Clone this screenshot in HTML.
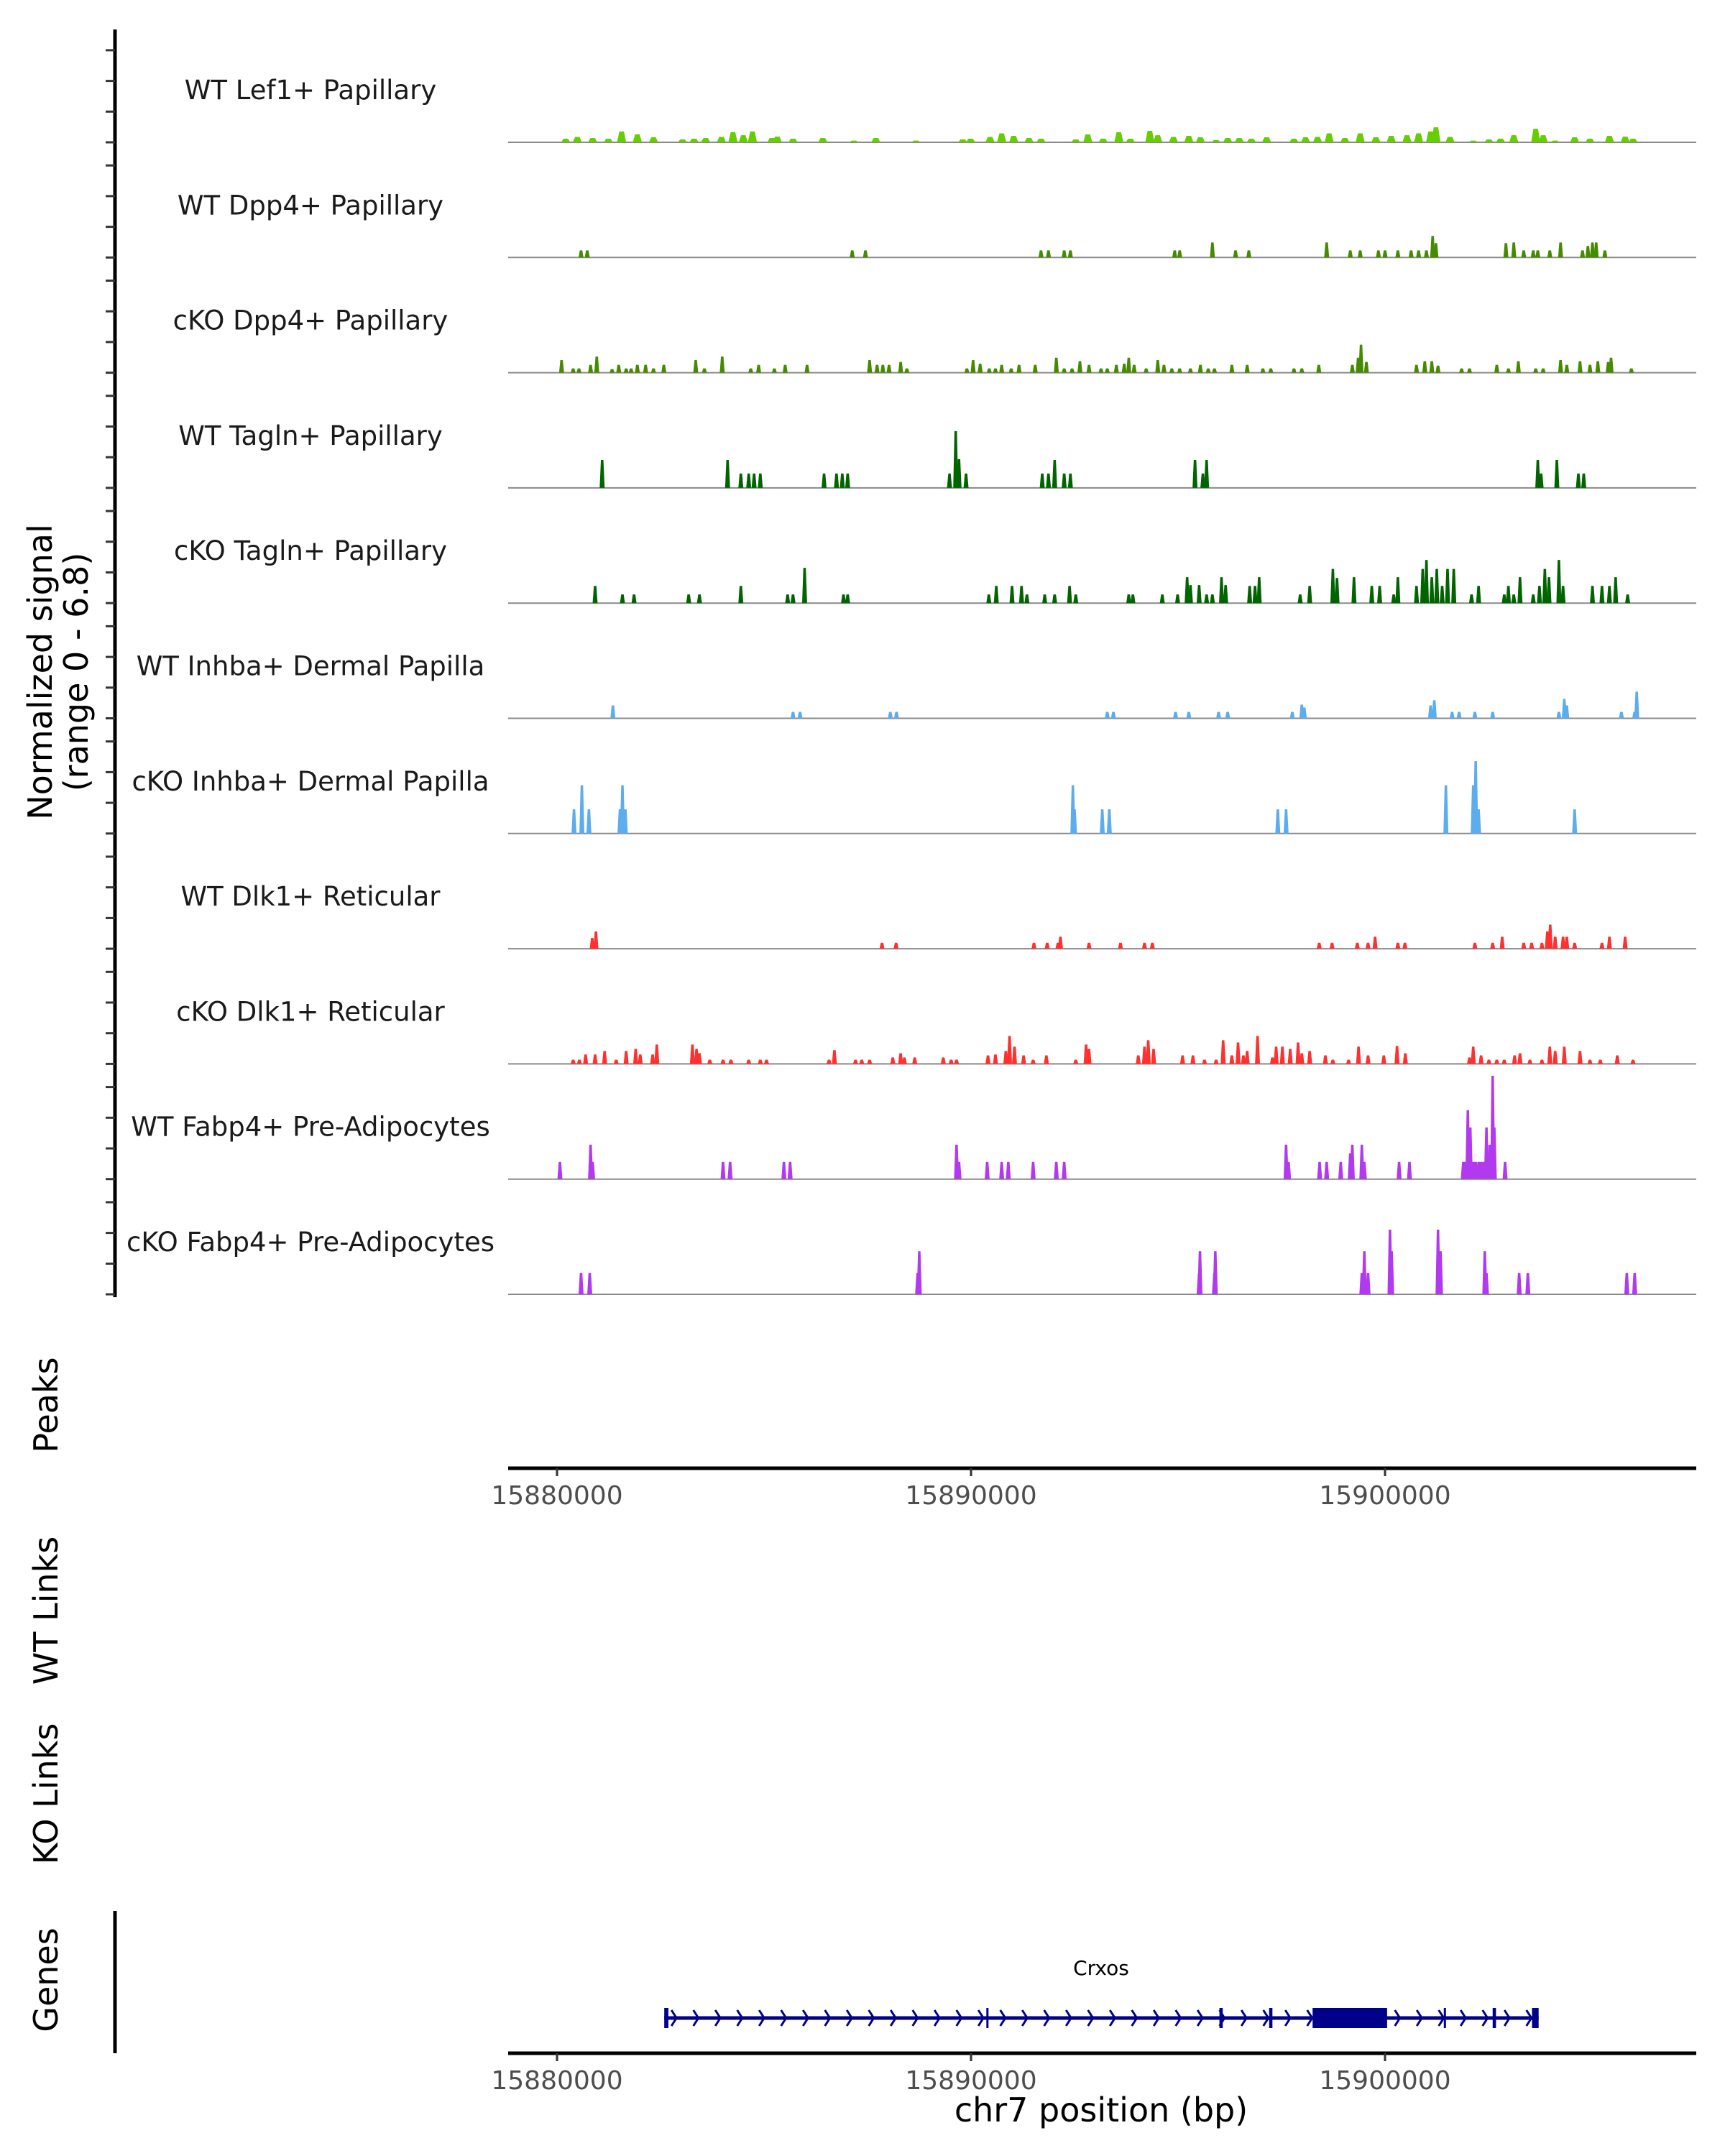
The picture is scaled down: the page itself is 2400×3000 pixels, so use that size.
<!DOCTYPE html>
<html><head><meta charset="utf-8"><style>
html,body{margin:0;padding:0;background:#fff;}
svg{display:block;font-family:"DejaVu Sans","Liberation Sans",sans-serif;}
</style></head><body>
<svg id="chart" width="2400" height="3000" viewBox="0 0 2400 3000" xmlns="http://www.w3.org/2000/svg">
<g id="tracks"></g>
<g id="axes"></g>
<g id="genes"></g>
</svg>
<script>
// ---- data (positions in kb on chr7, signal values 0-6.8) ----
const trackNames = ["WT Lef1+ Papillary","WT Dpp4+ Papillary","cKO Dpp4+ Papillary","WT Tagln+ Papillary","cKO Tagln+ Papillary","WT Inhba+ Dermal Papilla","cKO Inhba+ Dermal Papilla","WT Dlk1+ Reticular","cKO Dlk1+ Reticular","WT Fabp4+ Pre-Adipocytes","cKO Fabp4+ Pre-Adipocytes"];
const trackColors = ["#66cd00","#458b00","#458b00","#006400","#006400","#5cacee","#5cacee","#ff3030","#ff3030","#b23aee","#b23aee"];
const xTicks = [15880,15890,15900];
const xTickLabels = ["15880000","15890000","15900000"];
const lef1 = [[15880.21,.23],[15880.49,.34],[15880.86,.27],[15881.24,.23],[15881.56,.68],[15881.94,.5],[15882.33,.32],[15883.03,.18],[15883.31,.23],[15883.59,.27],[15883.97,.34],[15884.25,.64],[15884.50,.45],[15884.72,.68],[15885.19,.27],[15885.32,.36],[15885.70,.23],[15886.42,.27],[15887.17,.11],[15887.70,.27],[15888.67,.11],[15889.80,.18],[15889.99,.23],[15890.46,.34],[15890.74,.57],[15891.03,.41],[15891.40,.27],[15891.69,.23],[15892.53,.18],[15892.82,.5],[15893.19,.23],[15893.57,.64],[15893.85,.23],[15894.32,.73],[15894.51,.45],[15894.89,.34],[15895.26,.41],[15895.54,.32],[15895.92,.14],[15896.20,.27],[15896.48,.27],[15896.77,.23],[15897.14,.32],[15897.80,.23],[15898.08,.32],[15898.37,.34],[15898.65,.57],[15899.03,.27],[15899.40,.57],[15899.78,.32],[15900.15,.41],[15900.53,.45],[15900.81,.57],[15901.10,.68],[15901.23,.95],[15901.57,.34],[15902.13,.11],[15902.51,.18],[15902.79,.23],[15903.11,.45],[15903.64,.86],[15903.82,.45],[15904.11,.11],[15904.58,.32],[15904.95,.23],[15905.42,.41],[15905.80,.36],[15905.99,.23]];
const wtDpp4 = [[15880.58,.45],[15880.73,.45],[15887.13,.45],[15887.45,.45],[15891.69,.45],[15891.87,.45],[15892.25,.45],[15892.40,.45],[15894.92,.45],[15895.04,.45],[15895.83,.95],[15896.39,.45],[15896.71,.45],[15898.59,.95],[15899.16,.45],[15899.40,.45],[15899.84,.45],[15900.00,.45],[15900.31,.45],[15900.63,.45],[15900.81,.45],[15901.00,.45],[15901.15,1.36],[15901.23,.91],[15902.92,.91],[15903.11,.95],[15903.35,.45],[15903.58,.45],[15903.69,.45],[15903.98,.45],[15904.24,.95],[15904.77,.45],[15904.90,.73],[15905.01,.95],[15905.10,.95],[15905.31,.45]];
const koDpp4 = [[15880.11,.8],[15880.39,.27],[15880.53,.27],[15880.81,.5],[15880.96,1.02],[15881.33,.23],[15881.49,.5],[15881.67,.27],[15881.79,.27],[15881.94,.5],[15882.14,.5],[15882.33,.27],[15882.58,.5],[15883.35,.8],[15883.56,.27],[15883.99,1.02],[15884.68,.27],[15884.87,.5],[15885.25,.27],[15885.51,.5],[15886.04,.5],[15887.55,.8],[15887.73,.5],[15887.87,.5],[15888.02,.5],[15888.30,.68],[15888.45,.27],[15889.90,.27],[15890.05,.8],[15890.22,.57],[15890.44,.27],[15890.59,.27],[15890.74,.5],[15890.97,.27],[15891.16,.5],[15891.55,.5],[15892.06,.95],[15892.25,.27],[15892.44,.27],[15892.63,.73],[15892.85,.5],[15893.14,.27],[15893.29,.27],[15893.51,.5],[15893.70,.57],[15893.81,.95],[15893.94,.5],[15894.23,.27],[15894.51,.8],[15894.66,.5],[15894.85,.27],[15895.04,.27],[15895.30,.27],[15895.54,.5],[15895.73,.27],[15895.88,.27],[15896.30,.5],[15896.67,.5],[15897.05,.27],[15897.24,.27],[15897.80,.27],[15897.99,.27],[15898.40,.5],[15899.21,.5],[15899.35,.95],[15899.42,1.77],[15899.55,.68],[15900.76,.5],[15900.96,.73],[15901.13,.73],[15901.28,.45],[15901.85,.27],[15902.04,.27],[15902.70,.5],[15902.98,.27],[15903.22,.73],[15903.64,.27],[15903.82,.27],[15904.24,.8],[15904.39,.5],[15904.71,.73],[15904.95,.5],[15905.14,.73],[15905.39,.68],[15905.46,.95],[15905.95,.27]];
const wtTagln = [[15881.09,1.77],[15884.12,1.77],[15884.44,.91],[15884.63,.91],[15884.76,.91],[15884.91,.91],[15886.45,.91],[15886.75,.91],[15886.89,.91],[15887.02,.91],[15889.48,.91],[15889.63,3.59],[15889.71,1.82],[15889.88,.91],[15891.72,.91],[15891.87,.91],[15892.02,1.77],[15892.25,.91],[15892.40,.91],[15895.41,1.77],[15895.60,.91],[15895.69,1.77],[15903.69,1.77],[15903.77,.91],[15904.15,1.77],[15904.67,.91],[15904.80,.91]];
const koTagln = [[15880.92,1.09],[15881.58,.55],[15881.86,.55],[15883.18,.55],[15883.44,.55],[15884.44,1.09],[15885.57,.55],[15885.70,.55],[15885.98,2.23],[15886.92,.55],[15887.02,.55],[15890.43,.55],[15890.61,1.09],[15890.99,1.09],[15891.22,1.09],[15891.35,.55],[15891.78,.55],[15892.02,.55],[15892.38,1.09],[15892.53,.55],[15893.81,.55],[15893.91,.55],[15894.62,.55],[15894.99,.55],[15895.22,1.64],[15895.30,1.14],[15895.51,1.14],[15895.69,.55],[15895.83,.55],[15896.05,1.64],[15896.15,1.14],[15896.73,1.09],[15896.86,1.09],[15896.96,1.64],[15897.95,.55],[15898.18,1.09],[15898.74,2.16],[15898.84,1.59],[15899.25,1.64],[15899.68,1.09],[15899.87,1.09],[15900.21,.55],[15900.31,1.64],[15900.76,1.09],[15900.91,2.16],[15901.00,2.73],[15901.13,1.64],[15901.25,2.16],[15901.38,1.09],[15901.51,2.16],[15901.66,2.16],[15902.09,.55],[15902.26,1.09],[15902.88,.55],[15902.98,1.09],[15903.11,.55],[15903.26,1.64],[15903.58,.55],[15903.73,1.09],[15903.86,2.16],[15903.96,1.64],[15904.20,2.73],[15904.30,1.09],[15905.01,1.09],[15905.24,1.09],[15905.42,1.09],[15905.57,1.64],[15905.86,.55]];
const wtInhba = [[15881.35,.82],[15885.70,.41],[15885.87,.41],[15888.05,.41],[15888.20,.41],[15893.29,.41],[15893.44,.41],[15894.94,.41],[15895.26,.41],[15895.98,.41],[15896.20,.41],[15897.76,.41],[15897.99,.87],[15898.05,.68],[15901.10,.82],[15901.19,1.14],[15901.62,.41],[15901.79,.41],[15902.17,.41],[15902.60,.41],[15904.20,.41],[15904.33,1.23],[15904.39,.82],[15905.71,.41],[15906.03,.41],[15906.08,1.69]];
const koInhba = [[15880.41,1.53],[15880.60,3.05],[15880.77,1.53],[15881.52,1.53],[15881.58,3.05],[15881.65,1.53],[15892.46,3.05],[15892.50,1.53],[15893.17,1.53],[15893.34,1.53],[15897.41,1.53],[15897.61,1.53],[15901.47,3.05],[15902.13,3.05],[15902.19,4.58],[15902.26,1.53],[15904.58,1.53]];
const wtDlk1 = [[15880.85,.68],[15880.94,1.09],[15887.85,.38],[15888.19,.38],[15891.52,.38],[15891.84,.38],[15892.10,.38],[15892.16,.76],[15892.85,.38],[15893.61,.38],[15894.19,.38],[15894.38,.38],[15898.41,.38],[15898.72,.38],[15899.33,.38],[15899.59,.38],[15899.76,.76],[15900.31,.38],[15900.48,.38],[15902.17,.38],[15902.60,.38],[15902.83,.76],[15903.35,.38],[15903.54,.38],[15903.79,.38],[15903.92,1.09],[15903.99,1.53],[15904.11,.76],[15904.30,.76],[15904.39,.76],[15904.58,.38],[15905.24,.38],[15905.42,.76],[15905.80,.76]];
const koDlk1 = [[15880.39,.27],[15880.54,.27],[15880.69,.6],[15880.92,.6],[15881.15,.82],[15881.43,.27],[15881.67,.82],[15881.90,.95],[15882.01,.6],[15882.31,.6],[15882.41,1.23],[15883.27,1.23],[15883.37,.95],[15883.44,.68],[15883.69,.27],[15884.01,.27],[15884.20,.27],[15884.63,.27],[15884.91,.27],[15885.06,.27],[15886.57,.27],[15886.70,.87],[15887.21,.27],[15887.36,.27],[15887.55,.27],[15888.11,.41],[15888.30,.68],[15888.39,.41],[15888.64,.41],[15889.33,.41],[15889.52,.27],[15889.65,.27],[15890.41,.54],[15890.59,.6],[15890.84,.82],[15890.93,1.77],[15891.05,1.09],[15891.27,.54],[15891.50,.27],[15891.82,.54],[15892.53,.27],[15892.78,1.23],[15892.85,.95],[15894.04,.54],[15894.19,1.09],[15894.28,1.5],[15894.41,.95],[15895.11,.54],[15895.36,.54],[15895.64,.27],[15895.92,.27],[15896.09,1.5],[15896.30,.54],[15896.45,1.36],[15896.58,.54],[15896.67,.82],[15896.92,1.77],[15897.28,.41],[15897.37,1.09],[15897.52,1.09],[15897.71,.95],[15897.90,1.36],[15897.99,.68],[15898.18,.82],[15898.56,.54],[15898.74,.27],[15899.12,.27],[15899.36,1.09],[15899.59,.54],[15899.97,.54],[15900.29,1.14],[15900.49,.68],[15902.04,.41],[15902.13,1.09],[15902.32,.54],[15902.51,.27],[15902.70,.27],[15902.88,.27],[15903.13,.54],[15903.26,.68],[15903.50,.27],[15903.79,.27],[15903.98,1.09],[15904.11,.82],[15904.33,1.09],[15904.71,.82],[15904.95,.27],[15905.20,.27],[15905.61,.54],[15905.99,.27]];
const wtFabp4 = [[15880.07,1.09],[15880.81,2.18],[15880.86,1.09],[15884.01,1.09],[15884.18,1.09],[15885.48,1.09],[15885.63,1.09],[15889.65,2.18],[15889.71,1.09],[15890.39,1.09],[15890.74,1.09],[15890.90,1.09],[15891.50,1.09],[15892.06,1.09],[15892.25,1.09],[15897.61,2.18],[15897.67,1.09],[15898.42,1.09],[15898.59,1.09],[15898.93,1.09],[15899.16,1.63],[15899.21,2.18],[15899.44,2.18],[15899.50,1.09],[15900.34,1.09],[15900.59,1.09],[15901.89,1.09],[15901.94,1.09],[15902.00,4.36],[15902.06,3.27],[15902.13,1.09],[15902.19,1.09],[15902.26,1.09],[15902.32,1.09],[15902.38,1.09],[15902.45,3.27],[15902.53,2.18],[15902.60,6.54],[15902.64,3.27],[15902.90,1.09]];
const koFabp4 = [[15880.58,1.36],[15880.79,1.36],[15888.71,1.36],[15888.75,2.72],[15895.51,1.36],[15895.53,2.72],[15895.88,1.36],[15895.90,2.72],[15899.44,1.36],[15899.50,2.72],[15899.59,1.36],[15900.12,4.09],[15900.16,2.72],[15901.28,4.09],[15901.34,2.72],[15902.41,2.72],[15902.45,1.36],[15903.24,1.36],[15903.45,1.36],[15905.84,1.36],[15906.03,1.36]];
const trackData = [lef1,wtDpp4,koDpp4,wtTagln,koTagln,wtInhba,koInhba,wtDlk1,koDlk1,wtFabp4,koFabp4];
const geneStart = 15882.59, geneEnd = 15903.71;
const geneExons = [[15882.59,15882.69],[15890.37,15890.40],[15896.00,15896.08],[15897.20,15897.28],[15898.25,15900.05],[15901.42,15901.47],[15902.60,15902.68],[15903.55,15903.71]];
const geneName = "Crxos";

// ---- scales ----
const NS="http://www.w3.org/2000/svg";
const X0=775, PXKB=57.6;
function xs(kb){return X0+(kb-15880)*PXKB;}
const PLOT_L=707, PLOT_R=2360;
const BASE0=198, STEP=160.3, VPX=22;
function base(i){return BASE0+STEP*i;}
function ys(i,v){return base(i)-v*VPX;}
function mk(tag,attrs,parent){const e=document.createElementNS(NS,tag);for(const k in attrs)e.setAttribute(k,attrs[k]);parent.appendChild(e);return e;}

const T=document.getElementById('tracks'), A=document.getElementById('axes'), G=document.getElementById('genes');

let el=mk('line',{x1:160,y1:41,x2:160,y2:1805,stroke:'#000','stroke-width':5},A);


trackNames.forEach((name,i)=>{
  for(let k=0;k<4;k++){
    const y=base(i)-k*42.7;
    const t=mk('line',{x1:147,y1:y,x2:160,y2:y,stroke:'#333','stroke-width':3},A);
    
    
  }
  const bl=mk('line',{x1:PLOT_L,y1:base(i),x2:PLOT_R,y2:base(i),stroke:'#8a8a8a','stroke-width':2},T);
  
  
  const lab=mk('text',{x:432,y:base(i)-60,'text-anchor':'middle','font-size':37,fill:'#1a1a1a'},T);
  lab.textContent=name;
  
  
  const w = i===0?0.22:0.12;
  trackData[i].forEach(p=>{
    const xc=xs(p[0]), hw=w*PXKB/2, y0=base(i), y1=ys(i,p[1]);
    const pts=[[xc-hw,y0],[xc-hw*0.5,y1],[xc+hw*0.5,y1],[xc+hw,y0]].map(a=>a.join(',')).join(' ');
    const pk=mk('polygon',{points:pts,fill:trackColors[i]},T);
    
    
  });
});

function xAxis(y,name){
  const l=mk('line',{x1:PLOT_L,y1:y,x2:PLOT_R,y2:y,stroke:'#000','stroke-width':5},A);
  
  
  xTicks.forEach((v,j)=>{
    const t=mk('line',{x1:xs(v),y1:y,x2:xs(v),y2:y+11,stroke:'#333','stroke-width':3},A);
    
    
    const tx=mk('text',{x:xs(v),y:y+50,'text-anchor':'middle','font-size':36,fill:'#4d4d4d'},A);
    tx.textContent=xTickLabels[j];
    
    
  });
}
xAxis(2043,'peaks-x-axis');
xAxis(2857,'genes-x-axis');
el=mk('line',{x1:160,y1:2659,x2:160,y2:2857,stroke:'#000','stroke-width':5},A);



function vtitle(lines,x,y,name){
  const t=mk('text',{transform:`translate(${x},${y}) rotate(-90)`,'text-anchor':'middle','font-size':46,fill:'#000'},A);
  lines.forEach((s,j)=>{const ts=mk('tspan',{x:0,dy:j===0?(lines.length>1?-8:16):50},t);ts.textContent=s;});
  
  
}
vtitle(["Normalized signal","(range 0 - 6.8)"],80,935,'y-axis-title');
vtitle(["Peaks"],64,1955,'peaks-title');
vtitle(["WT Links"],64,2241,'wt-links-title');
vtitle(["KO Links"],64,2496,'ko-links-title');
vtitle(["Genes"],64,2755,'genes-title');
el=mk('text',{x:1532,y:2952,'text-anchor':'middle','font-size':46,fill:'#000'},A);
el.textContent='chr7 position (bp)';



const GY=2808, GC='#00008b';
el=mk('line',{x1:xs(geneStart),y1:GY,x2:xs(geneEnd),y2:GY,stroke:GC,'stroke-width':5},G);


for(let x=xs(geneStart)+14;x<xs(geneEnd)-8;x+=30.5){
  const a=mk('polyline',{points:`${x-4},${GY-11} ${x+3},${GY} ${x-4},${GY+11}`,fill:'none',stroke:GC,'stroke-width':3},G);
  
  
}
geneExons.forEach(e=>{
  const big=(e[1]-e[0])>1;
  const r=mk('rect',{x:xs(e[0]),y:GY-14,width:Math.max(3,xs(e[1])-xs(e[0])),height:28,fill:GC},G);
  
  
});
el=mk('text',{x:1532,y:2748,'text-anchor':'middle','font-size':28,fill:'#000'},G);
el.textContent=geneName;


</script>
</body></html>
